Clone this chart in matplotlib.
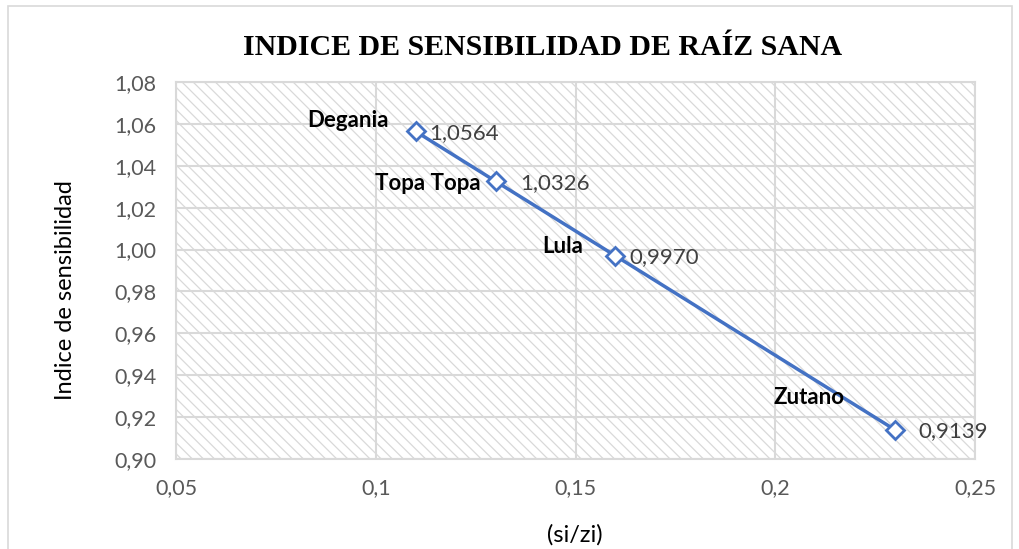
import matplotlib.pyplot as plt
from matplotlib.patches import Rectangle
from matplotlib.ticker import FixedLocator

# Datos del índice de sensibilidad
variedades = ["Degania", "Topa Topa", "Lula", "Zutano"]
si_zi = [0.11, 0.13, 0.16, 0.23]
indice = [1.0564, 1.0326, 0.9970, 0.9139]

x_ticks = [0.05, 0.1, 0.15, 0.2, 0.25]
x_labels = ["0,05", "0,1", "0,15", "0,2", "0,25"]
y_ticks = [0.90, 0.92, 0.94, 0.96, 0.98, 1.00, 1.02, 1.04, 1.06, 1.08]

plt.rcParams['font.family'] = ['Lato', 'DejaVu Sans']
plt.rcParams['hatch.color'] = '#d9d9d9'
plt.rcParams['hatch.linewidth'] = 0.9

fig = plt.figure(figsize=(10.19, 5.49), dpi=100)
ax = fig.add_axes([176/1019, 1 - 459/549, 799/1019, 377/549])

# fondo rayado del área de trazado
ax.add_patch(Rectangle((0, 0), 1, 1, transform=ax.transAxes, facecolor='white',
                       edgecolor='#d9d9d9', hatch='\\\\\\', linewidth=0, zorder=0))

ax.plot(si_zi, indice, color='#4472c4', linewidth=2.5, marker='D', markersize=9,
        markerfacecolor='white', markeredgecolor='#4472c4', markeredgewidth=2, zorder=3)

# etiquetas de nombre (izquierda) y valor (derecha)
name_off = [(-27, 11), (-15, -2), (-32, 9), (-51, 32)]
val_off = [(14, -2), (25, -2), (14, -1), (23, -1)]
for i in range(len(variedades)):
    ax.annotate(variedades[i], (si_zi[i], indice[i]), xytext=name_off[i],
                textcoords='offset pixels', ha='right', va='center',
                fontsize=16, fontweight='bold', color='black', zorder=4)
    ax.annotate(f"{indice[i]:.4f}".replace('.', ','), (si_zi[i], indice[i]),
                xytext=val_off[i], textcoords='offset pixels', ha='left',
                va='center', fontsize=16, color='#404040', zorder=4)

ax.set_xlim(0.05, 0.25)
ax.set_ylim(0.90, 1.08)
ax.xaxis.set_major_locator(FixedLocator(x_ticks))
ax.set_xticklabels(x_labels)
ax.yaxis.set_major_locator(FixedLocator(y_ticks))
ax.set_yticklabels([f"{v:.2f}".replace('.', ',') for v in y_ticks])
ax.tick_params(length=0, labelsize=15.5, labelcolor='#595959', pad=14)
ax.grid(True, color='#d9d9d9', linewidth=1.5, zorder=1)
ax.set_axisbelow(True)
for s in ax.spines.values():
    s.set_color('#d9d9d9')
    s.set_linewidth(1.5)

fig.text(0.532, 0.913, "INDICE DE SENSIBILIDAD DE RAÍZ SANA", ha='center', va='center',
         fontsize=21.5, fontweight='bold', family=['Liberation Serif', 'DejaVu Serif'])
fig.text(575/1019, 1 - 535/549, "(si/zi)", ha='center', va='center', fontsize=17)
fig.text(65/1019, 1 - 290/549, "Indice de sensibilidad", ha='center', va='center',
         fontsize=17, rotation=90)

# borde del gráfico
fig.add_artist(Rectangle((8/1019, -0.02), 1004/1019, 1.02 - 6/549, transform=fig.transFigure,
                         fill=False, edgecolor='#d9d9d9', linewidth=1.2))

fig.savefig("out.png", dpi=100)
